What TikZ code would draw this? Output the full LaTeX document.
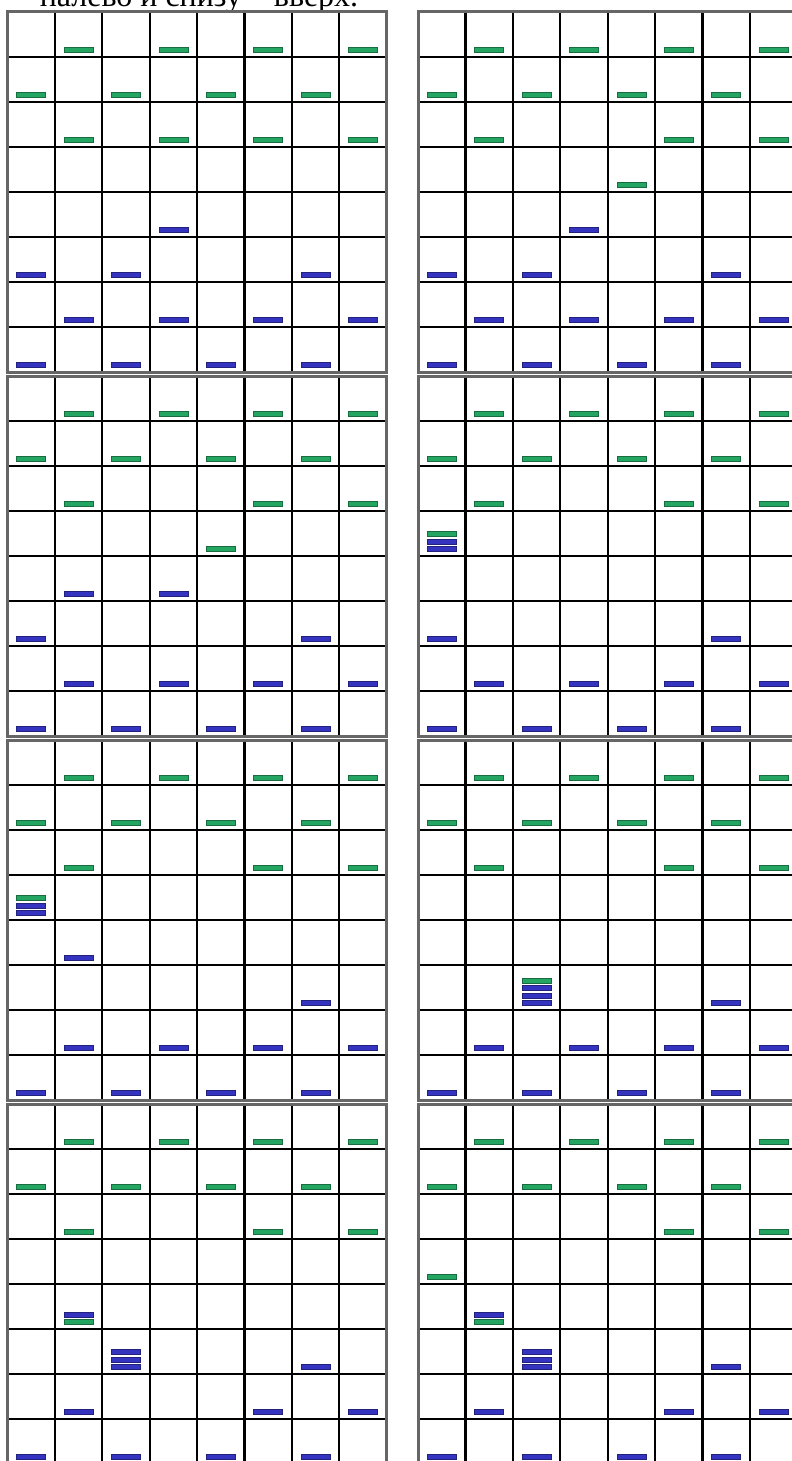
\documentclass[tikz,border=0pt]{standalone}
\usepackage{fontspec}
\setmainfont{Liberation Serif}
\definecolor{chkgreen}{RGB}{36,166,98}
\definecolor{chkblue}{RGB}{52,52,192}
\tikzset{
    cellline/.style={line width=1.1pt, black},
    frameline/.style={line width=1.5pt, black!60},
    greenbar/.style={fill=chkgreen, draw=chkgreen!65!black, line width=0.3pt},
    bluebar/.style={fill=chkblue, draw=chkblue!65!black, line width=0.3pt},
}
\newcommand{\cellw}{47.4}
\newcommand{\cellh}{45}
% grid of one board, #1 = left x, #2 = top y (px, y down)
\newcommand{\drawboard}[2]{%
    \foreach \i in {1,...,7} {
        \draw[cellline] ({#1+\i*\cellw},#2) -- ({#1+\i*\cellw},{#2+8*\cellh});
        \draw[cellline] (#1,{#2+\i*\cellh}) -- ({#1+8*\cellw},{#2+\i*\cellh});
    }
    \draw[frameline] (#1,#2) rectangle ({#1+8*\cellw},{#2+8*\cellh});
}
% one piece: board x, board y, column, row, level in stack, style
\newcommand{\putpiece}[6]{%
    \path[#6] ({#1+(#3-0.5)*\cellw-14.5},{#2+#4*\cellh-9.5-7.5*#5}) rectangle ++(29,5);
}
% rows that never change: green rows 1-2, blue row 8
\newcommand{\homerows}[2]{%
    \foreach \c in {2,4,6,8} {\putpiece{#1}{#2}{\c}{1}{0}{greenbar}}
    \foreach \c in {1,3,5,7} {\putpiece{#1}{#2}{\c}{2}{0}{greenbar}}
    \foreach \c in {1,3,5,7} {\putpiece{#1}{#2}{\c}{8}{0}{bluebar}}
}

\begin{document}
\begin{tikzpicture}[x=0.5pt, y=-0.5pt]
    \useasboundingbox (0,0) rectangle (792,1461);
    \fill[white] (0,0) rectangle (792,1461);

    % caption, cut by the page top
    \node[font=\fontsize{16}{18}\selectfont, anchor=base] (caption) at (199,6.5) {налево и снизу – вверх.};

    % boards
    \foreach \by in {12,376,740,1104} {
        \drawboard{7.5}{\by}
        \drawboard{418}{\by}
    }

    % board 1
    \homerows{7.5}{12}
    \foreach \c/\r/\k/\s in {2/3/0/greenbar, 4/3/0/greenbar, 6/3/0/greenbar, 8/3/0/greenbar,
        4/5/0/bluebar, 1/6/0/bluebar, 3/6/0/bluebar, 7/6/0/bluebar,
        2/7/0/bluebar, 4/7/0/bluebar, 6/7/0/bluebar, 8/7/0/bluebar}
        {\putpiece{7.5}{12}{\c}{\r}{\k}{\s}}

    % board 2
    \homerows{418}{12}
    \foreach \c/\r/\k/\s in {2/3/0/greenbar, 6/3/0/greenbar, 8/3/0/greenbar, 5/4/0/greenbar,
        4/5/0/bluebar, 1/6/0/bluebar, 3/6/0/bluebar, 7/6/0/bluebar,
        2/7/0/bluebar, 4/7/0/bluebar, 6/7/0/bluebar, 8/7/0/bluebar}
        {\putpiece{418}{12}{\c}{\r}{\k}{\s}}

    % board 3
    \homerows{7.5}{376}
    \foreach \c/\r/\k/\s in {2/3/0/greenbar, 6/3/0/greenbar, 8/3/0/greenbar, 5/4/0/greenbar,
        2/5/0/bluebar, 4/5/0/bluebar, 1/6/0/bluebar, 7/6/0/bluebar,
        2/7/0/bluebar, 4/7/0/bluebar, 6/7/0/bluebar, 8/7/0/bluebar}
        {\putpiece{7.5}{376}{\c}{\r}{\k}{\s}}

    % board 4
    \homerows{418}{376}
    \foreach \c/\r/\k/\s in {2/3/0/greenbar, 6/3/0/greenbar, 8/3/0/greenbar,
        1/4/0/bluebar, 1/4/1/bluebar, 1/4/2/greenbar,
        1/6/0/bluebar, 7/6/0/bluebar,
        2/7/0/bluebar, 4/7/0/bluebar, 6/7/0/bluebar, 8/7/0/bluebar}
        {\putpiece{418}{376}{\c}{\r}{\k}{\s}}

    % board 5
    \homerows{7.5}{740}
    \foreach \c/\r/\k/\s in {2/3/0/greenbar, 6/3/0/greenbar, 8/3/0/greenbar,
        1/4/0/bluebar, 1/4/1/bluebar, 1/4/2/greenbar,
        2/5/0/bluebar, 7/6/0/bluebar,
        2/7/0/bluebar, 4/7/0/bluebar, 6/7/0/bluebar, 8/7/0/bluebar}
        {\putpiece{7.5}{740}{\c}{\r}{\k}{\s}}

    % board 6
    \homerows{418}{740}
    \foreach \c/\r/\k/\s in {2/3/0/greenbar, 6/3/0/greenbar, 8/3/0/greenbar,
        3/6/0/bluebar, 3/6/1/bluebar, 3/6/2/bluebar, 3/6/3/greenbar, 7/6/0/bluebar,
        2/7/0/bluebar, 4/7/0/bluebar, 6/7/0/bluebar, 8/7/0/bluebar}
        {\putpiece{418}{740}{\c}{\r}{\k}{\s}}

    % board 7
    \homerows{7.5}{1104}
    \foreach \c/\r/\k/\s in {2/3/0/greenbar, 6/3/0/greenbar, 8/3/0/greenbar,
        2/5/0/greenbar, 2/5/1/bluebar,
        3/6/0/bluebar, 3/6/1/bluebar, 3/6/2/bluebar, 7/6/0/bluebar,
        2/7/0/bluebar, 6/7/0/bluebar, 8/7/0/bluebar}
        {\putpiece{7.5}{1104}{\c}{\r}{\k}{\s}}

    % board 8
    \homerows{418}{1104}
    \foreach \c/\r/\k/\s in {6/3/0/greenbar, 8/3/0/greenbar, 1/4/0/greenbar,
        2/5/0/greenbar, 2/5/1/bluebar,
        3/6/0/bluebar, 3/6/1/bluebar, 3/6/2/bluebar, 7/6/0/bluebar,
        2/7/0/bluebar, 6/7/0/bluebar, 8/7/0/bluebar}
        {\putpiece{418}{1104}{\c}{\r}{\k}{\s}}
\end{tikzpicture}
\end{document}
